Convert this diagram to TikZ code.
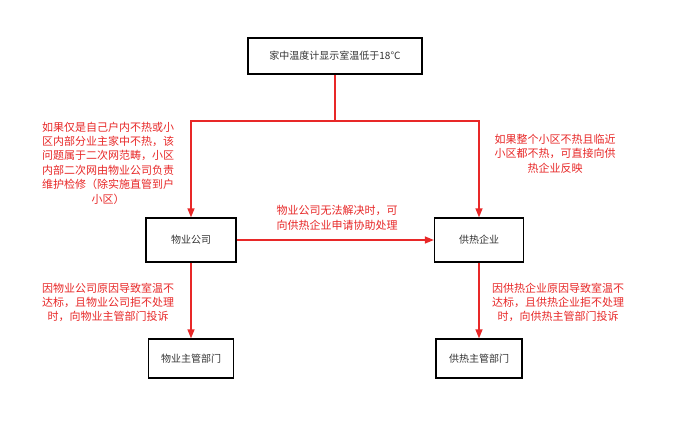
\documentclass[tikz,border=0pt]{standalone}
\usepackage{fontspec}
\setmainfont{Noto Sans CJK SC}
\usetikzlibrary{arrows.meta}
\definecolor{lred}{RGB}{232,40,40}
\begin{document}
\begin{tikzpicture}[x=1pt,y=-1pt,
  box/.style={draw=black, line width=1.3pt, font=\fontsize{10}{12}\selectfont, inner sep=0pt, text=black!80},
  lbl/.style={text=lred, align=center, font=\fontsize{11}{14.4}\selectfont, inner sep=0pt},
  conn/.style={draw=lred, line width=1.3pt},
  arr/.style={conn, -{Triangle[length=9pt,width=7pt]}}]
\useasboundingbox[fill=white] (0,0) rectangle (677,428);
\node[box, minimum width=174pt, minimum height=36pt] (top) at (335,56) {家中温度计显示室温低于18°C};
\node[box, minimum width=90pt, minimum height=44pt] (wy) at (191,240) {物业公司};
\node[box, minimum width=89pt, minimum height=44pt] (gr) at (479,240) {供热企业};
\node[box, minimum width=85pt, minimum height=39pt] (wyzg) at (191,358.5) {物业主管部门};
\node[box, minimum width=86pt, minimum height=39pt] (grzg) at (479,358.5) {供热主管部门};
\coordinate (j) at (335,121);
\draw[conn] (top.south) -- (j);
\draw[arr] (j) -| (wy.north);
\draw[arr] (j) -| (gr.north);
\draw[arr] (wy.east) -- (gr.west);
\draw[arr] (wy.south) -- (wyzg.north);
\draw[arr] (gr.south) -- (grzg.north);
\node[lbl] (l1) at (108,163) {如果仅是自己户内不热或小\\区内部分业主家中不热，该\\问题属于二次网范畴，小区\\内部二次网由物业公司负责\\维护检修（除实施直管到户\\小区）};
\node[lbl] (l2) at (555,153.5) {如果整个小区不热且临近\\小区都不热，可直接向供\\热企业反映};
\node[lbl] (l3) at (337,218) {物业公司无法解决时，可\\向供热企业申请协助处理};
\node[lbl] (l4) at (108,302.5) {因物业公司原因导致室温不\\达标，且物业公司拒不处理\\时，向物业主管部门投诉};
\node[lbl] (l5) at (558,302.5) {因供热企业原因导致室温不\\达标，且供热企业拒不处理\\时，向供热主管部门投诉};
\end{tikzpicture}
\end{document}
